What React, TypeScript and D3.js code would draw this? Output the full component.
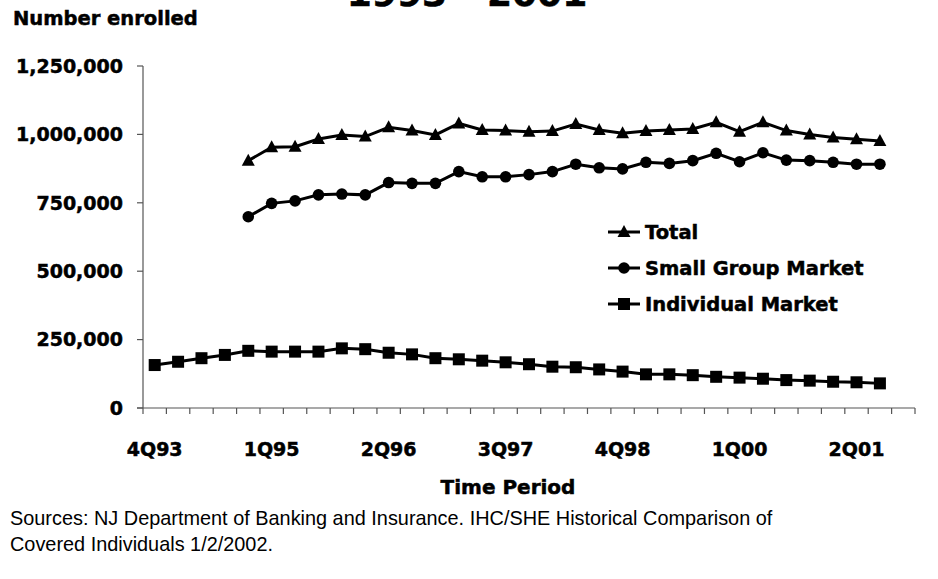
import React from "react";
import * as d3 from "d3";

const categories = [
  "4Q93","1Q94","2Q94","3Q94","4Q94","1Q95","2Q95","3Q95","4Q95","1Q96","2Q96","3Q96","4Q96",
  "1Q97","2Q97","3Q97","4Q97","1Q98","2Q98","3Q98","4Q98","1Q99","2Q99","3Q99","4Q99",
  "1Q00","2Q00","3Q00","4Q00","1Q01","2Q01","3Q01","4Q01"
];
const tickLabels = ["4Q93","1Q95","2Q96","3Q97","4Q98","1Q00","2Q01"];
const yTicks = [0, 250000, 500000, 750000, 1000000, 1250000];

const N = null;
const totalValues: (number | null)[] = [
  N, N, N, N, 904000, 953000, 955000, 983000, 998000, 992000, 1026000, 1014000, 998000,
  1040000, 1016000, 1014000, 1010000, 1012000, 1038000, 1016000, 1004000, 1012000, 1016000,
  1020000, 1044000, 1010000, 1044000, 1014000, 1000000, 989000, 982000, 976000, N
];
const smallGroupValues: (number | null)[] = [
  N, N, N, N, 699000, 748000, 757000, 779000, 782000, 779000, 824000, 821000, 821000,
  864000, 845000, 845000, 853000, 864000, 891000, 878000, 874000, 898000, 894000,
  904000, 931000, 900000, 933000, 906000, 904000, 898000, 891000, 891000, N
];
const individualValues: (number | null)[] = [
  157000, 169000, 182000, 194000, 209000, 206000, 206000, 206000, 218000, 215000, 202000,
  196000, 182000, 178000, 173000, 167000, 160000, 151000, 149000, 141000, 133000, 123000,
  123000, 120000, 114000, 111000, 107000, 102000, 100000, 96000, 94000, 90000, N
];

const seriesNames = ["Total", "Small Group Market", "Individual Market"];
const seriesMarkers = ["triangle", "circle", "square"];

const BOLD = "'DejaVu Sans', sans-serif";
const heavy = { fontFamily: BOLD, fontWeight: "bold" as const, stroke: "#000", strokeWidth: 0.5 };

function Marker({ type, x, y }: { type: string; x: number; y: number }) {
  if (type === "triangle") {
    const p = d3.path();
    p.moveTo(x, y - 7);
    p.lineTo(x + 6.5, y + 5);
    p.lineTo(x - 6.5, y + 5);
    p.closePath();
    return <path d={p.toString()} fill="#000" />;
  }
  if (type === "circle") return <circle cx={x} cy={y} r={5.8} fill="#000" />;
  return <rect x={x - 6} y={y - 6} width={12} height={12} fill="#000" />;
}

export default function App() {
  const W = 938, H = 579;
  const x = d3.scaleBand<string>().domain(categories).range([143, 915]);
  const cx = (c: string) => (x(c) as number) + x.bandwidth() / 2;
  const y = d3.scaleLinear().domain([0, 1250000]).range([408, 66]);
  const fmt = d3.format(",");
  const line = d3
    .line<number | null>()
    .defined((d) => d !== null)
    .x((_, i) => cx(categories[i]))
    .y((d) => y(d as number));

  const allSeries = [totalValues, smallGroupValues, individualValues];
  const boundaries = categories.map((c) => x(c) as number).concat([915]);

  return (
    <svg width={W} height={H} style={{ position: "absolute", left: 0, top: 0, background: "#fff" }}>
      <text x={467} y={6} {...heavy} fontSize={36} textAnchor="middle">
        1993 - 2001
      </text>
      <text x={13} y={25} {...heavy} fontSize={19.5}>
        Number enrolled
      </text>

      {/* y axis */}
      <line x1={143} x2={143} y1={y(1250000)} y2={y(0)} stroke="#555" strokeWidth={1.2} />
      {yTicks.map((t) => (
        <g key={t}>
          <line x1={137} x2={143} y1={y(t)} y2={y(t)} stroke="#555" strokeWidth={1.2} />
          <text x={123} y={y(t)} dy="0.36em" textAnchor="end" {...heavy} fontSize={19}>
            {fmt(t)}
          </text>
        </g>
      ))}

      {/* x axis */}
      <line x1={137} x2={915} y1={y(0)} y2={y(0)} stroke="#555" strokeWidth={1.2} />
      {boundaries.map((b, i) => (
        <line key={i} x1={b} x2={b} y1={y(0)} y2={y(0) + 6} stroke="#555" strokeWidth={1.2} />
      ))}
      {tickLabels.map((t) => (
        <text key={t} x={cx(t)} y={456} textAnchor="middle" {...heavy} fontSize={19}>
          {t}
        </text>
      ))}
      <text x={508} y={494} textAnchor="middle" {...heavy} fontSize={20}>
        Time Period
      </text>

      {/* series */}
      {allSeries.map((s, si) => (
        <g key={si}>
          <path d={line(s) || ""} fill="none" stroke="#000" strokeWidth={3} />
          {s.map((v, i) =>
            v === null ? null : <Marker key={i} type={seriesMarkers[si]} x={cx(categories[i])} y={y(v)} />
          )}
        </g>
      ))}

      {/* legend */}
      {seriesNames.map((n, i) => {
        const ly = 232 + i * 36;
        return (
          <g key={n}>
            <line x1={608} x2={640} y1={ly} y2={ly} stroke="#000" strokeWidth={3} />
            <Marker type={seriesMarkers[i]} x={624} y={ly} />
            <text x={645} y={ly} dy="0.36em" {...heavy} fontSize={19.5}>
              {n}
            </text>
          </g>
        );
      })}

      <g transform="translate(10,0) scale(0.97,1)">
        <text x={0} y={525} fontFamily="'Liberation Sans', Arial, sans-serif" fontSize={20.5}>
          Sources: NJ Department of Banking and Insurance. IHC/SHE Historical Comparison of
        </text>
        <text x={0} y={551} fontFamily="'Liberation Sans', Arial, sans-serif" fontSize={20.5}>
          Covered Individuals 1/2/2002.
        </text>
      </g>
    </svg>
  );
}
